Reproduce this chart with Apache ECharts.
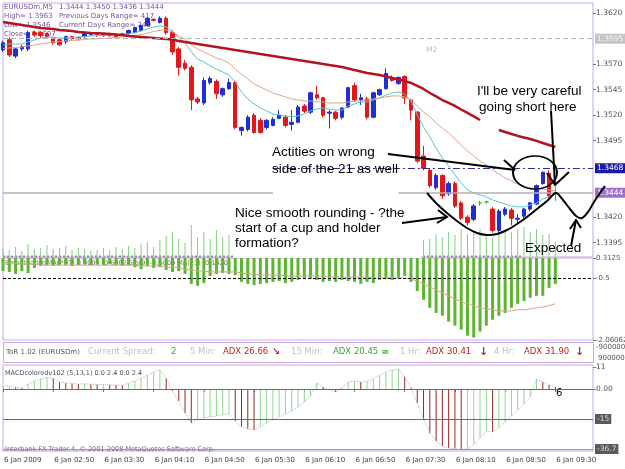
<html>
<head>
<meta charset="utf-8" />
<script src="https://cdn.jsdelivr.net/npm/echarts@6/dist/echarts.min.js"></script>
<style>
  html, body { margin: 0; padding: 0; background: #fff; }
  #chart { width: 625px; height: 469px; }
</style>
</head>
<body>
<div id="chart"></div>
<script type="text/javascript">
// ---- data (EURUSDm M5, 6 Jan 2009) ----
var opens = [1.3584,1.3594,1.3578,1.3585,1.3585,1.3601,1.3601,1.3600,1.3596,1.3594,
  1.3592,1.3597,1.3596,1.3597,1.3599,1.3600,1.3598,1.3600,1.3599,1.3600,
  1.3600,1.3601,1.3603,1.3608,1.3614,1.3611,1.3615,1.3601,1.3585,1.3571,
  1.3567,1.3536,1.3532,1.3552,1.3553,1.3540,1.3546,1.3552,1.3505,1.3506,
  1.3520,1.3515,1.3508,1.3510,1.3517,1.3518,1.3511,1.3513,1.3529,1.3523,
  1.3540,1.3537,1.3522,1.3523,1.3518,1.3528,1.3549,1.3535,1.3536,1.3518,
  1.3540,1.3546,1.3557,1.3551,1.3558,1.3535,1.3523,1.3480,1.3466,1.3449,
  1.3461,1.3443,1.3453,1.3434,1.3420,1.3418,1.3434,1.3435,1.3428,1.3407,
  1.3423,1.3427,1.3418,1.3421,1.3428,1.3433,1.3453,1.3463,1.3444];
var closes = [1.3591,1.3579,1.3585,1.3587,1.3601,1.3599,1.3598,1.3597,1.3591,1.3589,
  1.3597,1.3595,1.3595,1.3600,1.3600,1.3599,1.3599,1.3598,1.3597,1.3600,
  1.3603,1.3606,1.3608,1.3615,1.3613,1.3615,1.3601,1.3582,1.3567,1.3566,
  1.3535,1.3533,1.3554,1.3556,1.3541,1.3546,1.3552,1.3508,1.3508,1.3518,
  1.3503,1.3503,1.3515,1.3516,1.3520,1.3510,1.3513,1.3528,1.3524,1.3542,
  1.3537,1.3520,1.3523,1.3517,1.3527,1.3547,1.3535,1.3537,1.3518,1.3542,
  1.3545,1.3561,1.3554,1.3557,1.3537,1.3525,1.3475,1.3468,1.3451,1.3461,
  1.3441,1.3453,1.3431,1.3419,1.3415,1.3431,1.3434,1.3435,1.3407,1.3426,
  1.3428,1.3419,1.3419,1.3428,1.3434,1.3451,1.3464,1.3441,1.3444];
var lows = [1.3582,1.3577,1.3576,1.3583,1.3583,1.3597,1.3596,1.3595,1.3589,1.3588,
  1.3590,1.3594,1.3593,1.3596,1.3598,1.3597,1.3597,1.3597,1.3596,1.3599,
  1.3599,1.3600,1.3602,1.3607,1.3612,1.3610,1.3599,1.3579,1.3559,1.3564,
  1.3525,1.3531,1.3530,1.3550,1.3536,1.3538,1.3545,1.3506,1.3500,1.3504,
  1.3502,1.3502,1.3506,1.3509,1.3516,1.3508,1.3505,1.3512,1.3522,1.3521,
  1.3535,1.3518,1.3507,1.3515,1.3516,1.3527,1.3533,1.3530,1.3516,1.3517,
  1.3539,1.3545,1.3553,1.3550,1.3531,1.3515,1.3473,1.3466,1.3449,1.3447,
  1.3438,1.3441,1.3429,1.3417,1.3412,1.3416,1.3431,1.3433,1.3405,1.3405,
  1.3421,1.3412,1.3414,1.3419,1.3426,1.3432,1.3452,1.3439,1.3436];
var highs = [1.3593,1.3596,1.3586,1.3589,1.3603,1.3603,1.3602,1.3601,1.3597,1.3595,
  1.3598,1.3598,1.3597,1.3601,1.3601,1.3601,1.3600,1.3601,1.3600,1.3601,
  1.3604,1.3607,1.3609,1.3616,1.3615,1.3617,1.3617,1.3603,1.3587,1.3574,
  1.3569,1.3538,1.3557,1.3558,1.3555,1.3547,1.3556,1.3554,1.3509,1.3520,
  1.3522,1.3517,1.3516,1.3518,1.3525,1.3520,1.3525,1.3530,1.3531,1.3543,
  1.3549,1.3538,1.3525,1.3524,1.3528,1.3548,1.3552,1.3541,1.3538,1.3543,
  1.3546,1.3566,1.3559,1.3558,1.3559,1.3536,1.3524,1.3490,1.3468,1.3463,
  1.3462,1.3455,1.3455,1.3436,1.3422,1.3433,1.3436,1.3436,1.3430,1.3428,
  1.3430,1.3429,1.3423,1.3429,1.3435,1.3452,1.3465,1.3466,1.3450];

// slow (thick red), mid (tan) and fast (cyan) moving averages
var maSlow = [1.36114,1.36104,1.36094,1.36084,1.36075,1.36065,1.36055,1.36050,1.36045,1.36035,
  1.36031,1.36026,1.36016,1.36011,1.36006,1.36004,1.36001,1.35996,1.35991,1.35986,
  1.35977,1.35972,1.35967,1.35962,1.35957,1.35952,1.35947,1.35942,1.35928,1.35918,
  1.35908,1.35898,1.35888,1.35879,1.35869,1.35859,1.35849,1.35839,1.35830,1.35820,
  1.35810,1.35800,1.35790,1.35781,1.35771,1.35761,1.35751,1.35741,1.35732,1.35722,
  1.35712,1.35702,1.35692,1.35683,1.35673,1.35658,1.35643,1.35629,1.35614,1.35604,
  1.35594,1.35580,1.35565,1.35550,1.35536,1.35516,1.35487,1.35457,1.35418,1.35384,
  1.35349,1.35320,1.35291,1.35256,1.35222,1.35188,1.35153,null,null,1.35055,
  1.35036,1.35016,1.34997,1.34982,1.34967,1.34948,1.34928,1.34908,1.34889];
var maMid = [1.35854,1.35859,1.35864,1.35869,1.35879,1.35888,1.35898,1.35908,1.35918,1.35923,
  1.35928,1.35933,1.35937,1.35942,1.35947,1.35949,1.35952,1.35957,1.35962,1.35967,
  1.35972,1.35982,1.35991,1.36006,1.36021,1.36031,1.36035,1.36016,1.35977,1.35947,
  1.35888,1.35849,1.35820,1.35790,1.35761,1.35741,1.35712,1.35653,1.35604,1.35555,
  1.35506,1.35477,1.35447,1.35418,1.35398,1.35379,1.35359,1.35349,1.35340,1.35340,
  1.35330,1.35330,1.35320,1.35320,1.35320,1.35330,1.35340,1.35340,1.35349,1.35359,
  1.35369,1.35379,1.35389,1.35389,1.35379,1.35349,1.35291,1.35232,1.35183,1.35124,
  1.35075,1.35026,1.34967,1.34908,1.34850,1.34801,1.34752,1.34712,1.34663,1.34624,
  1.34585,1.34556,1.34526,1.34507,1.34487,1.34477,1.34477,1.34467,1.34458];
var maFast = [1.35888,1.35898,1.35898,1.35898,1.35918,1.35937,1.35957,1.35967,1.35962,1.35957,
  1.35957,1.35962,1.35967,1.35972,1.35977,1.35979,1.35982,1.35986,1.35986,1.35991,
  1.35996,1.36011,1.36026,1.36045,1.36065,1.36075,1.36065,1.36026,1.35957,1.35908,
  1.35820,1.35751,1.35722,1.35683,1.35653,1.35624,1.35594,1.35526,1.35428,1.35359,
  1.35310,1.35271,1.35242,1.35212,1.35202,1.35193,1.35183,1.35193,1.35212,1.35242,
  1.35261,1.35271,1.35261,1.35251,1.35251,1.35291,1.35310,1.35330,1.35330,1.35349,
  1.35369,1.35398,1.35418,1.35428,1.35408,1.35340,1.35202,1.35085,1.34987,1.34879,
  1.34781,1.34703,1.34614,1.34536,1.34467,1.34438,1.34418,1.34399,1.34369,1.34350,
  1.34330,1.34310,1.34301,1.34301,1.34320,1.34340,1.34379,1.34399,1.34428];

// tick volume (bars hidden behind the note box are left empty)
var volumes = [32,28,40,24,52,32,36,48,32,36,
  44,28,36,32,24,28,36,28,40,32,
  44,36,52,60,40,68,84,100,72,56,
  128,80,100,72,108,80,88,null,null,null,
  null,null,null,null,null,null,null,null,null,null,
  null,null,null,null,null,null,null,null,null,null,
  null,null,null,null,null,null,null,68,72,92,
  80,100,88,112,92,104,112,88,80,100,
  108,100,112,120,100,112,88,92,60];

// second window: green histogram and its salmon signal line
var oscBars = [-0.33,-0.35,-0.40,-0.33,-0.38,-0.25,-0.20,-0.18,-0.20,-0.18,
  -0.15,-0.20,-0.18,-0.15,-0.18,-0.15,-0.18,-0.15,-0.18,-0.20,
  -0.18,-0.23,-0.28,-0.20,-0.25,-0.23,-0.30,-0.35,-0.33,-0.40,
  -0.65,-0.70,-0.63,-0.45,-0.40,-0.38,-0.40,-0.43,-0.60,-0.65,
  -0.68,-0.65,-0.63,-0.60,-0.58,-0.63,-0.60,-0.55,-0.50,-0.53,
  -0.55,-0.60,-0.58,-0.60,-0.55,-0.58,-0.60,-0.65,-0.60,-0.63,
  -0.55,-0.53,-0.55,-0.50,-0.45,-0.60,-0.83,-1.05,-1.25,-1.38,
  -1.45,-1.60,-1.70,-1.80,-1.95,-2.00,-1.85,-1.70,-1.55,-1.45,
  -1.38,-1.25,-1.15,-1.08,-1.00,-0.95,-0.95,-0.75,-0.65];
var oscSignal = [-0.13,-0.13,-0.13,-0.15,-0.15,-0.15,-0.18,-0.18,-0.18,-0.18,
  -0.18,-0.18,-0.18,-0.18,-0.18,-0.18,-0.18,-0.18,-0.18,-0.18,
  -0.18,-0.18,-0.20,-0.20,-0.20,-0.20,-0.23,-0.23,-0.25,-0.28,
  -0.30,-0.33,-0.33,-0.35,-0.35,-0.35,-0.35,-0.35,-0.38,-0.40,
  -0.40,-0.43,-0.43,-0.43,-0.43,-0.45,-0.45,-0.45,-0.45,-0.45,
  -0.45,-0.45,-0.48,-0.48,-0.48,-0.48,-0.48,-0.48,-0.48,-0.50,
  -0.50,-0.50,-0.50,-0.50,-0.50,-0.53,-0.58,-0.65,-0.73,-0.80,
  -0.88,-0.95,-1.03,-1.10,-1.15,-1.20,-1.25,-1.28,-1.30,-1.33,
  -1.33,-1.33,-1.30,-1.30,-1.28,-1.25,-1.23,-1.20,-1.15];

// MACDcoloredv102 histogram
var macd = [1.2,1.5,0.8,0.5,2.5,4.0,5.0,5.8,5.2,3.5,
  3.0,2.8,2.5,2.6,2.4,2.2,2.3,2.1,2.0,1.8,
  2.8,4.0,5.5,7.0,8.5,9.5,5.5,-1.0,-6.0,-12.0,
  -17.0,-15.5,-14.5,-14.0,-13.5,-13.0,-12.5,-16.0,-19.0,-20.0,
  -20.5,-19.0,-17.0,-15.5,-14.0,-12.5,-11.0,-9.0,-6.5,-3.5,
  3.0,1.0,-0.5,-1.5,0.5,3.5,4.0,3.5,3.8,5.0,
  7.0,8.5,9.5,10.0,6.0,0.5,-7.0,-15.0,-22.0,-26.0,
  -28.5,-29.5,-29.8,-30.3,-30.0,-27.5,-24.5,-21.0,-21.5,-19.5,
  -16.5,-13.5,-10.5,-7.5,-4.0,5.0,3.5,2.0,1.0];

// axis labels
var timeLabels = ['6 Jan 2009','6 Jan 02:50','6 Jan 03:30','6 Jan 04:10','6 Jan 04:50','6 Jan 05:30',
  '6 Jan 06:10','6 Jan 06:50','6 Jan 07:30','6 Jan 08:10','6 Jan 08:50','6 Jan 09:30'];
var priceTicks = [1.3395, 1.3420, 1.3495, 1.3520, 1.3545, 1.3570, 1.3620];
var oscTicks = [0, -0.5, -2.06062];
var oscTickText = ['0.3125', '-0.5', '-2.06062'];
var macdTicks = [11, 0];
var macdTickText = ['11', '0.00'];

// 5 minute bars from 02:10, with some empty space on the right
var categories = [];
for (var i = 0; i < 95; i++) {
    var m = 130 + 5 * i;
    categories.push('6 Jan ' + ('0' + Math.floor(m / 60)).slice(-2) + ':' + ('0' + (m % 60)).slice(-2));
}

var BORDER = '#c9a6dd';
var AXIS_FONT = 'DejaVu Sans';
var NOTE_FONT = '13.5px "Liberation Sans"';

var candleData = opens.map(function(o, i) {
    var item = { value: [o, closes[i], lows[i], highs[i]] };
    if (o === closes[i]) {
        item.itemStyle = { color: '#2fc42f', color0: '#2fc42f', borderColor: '#2fc42f', borderColor0: '#2fc42f' };
    }
    return item;
});

function boxLabel(text, bg, fg) {
    return {
        show: true, position: 'end', distance: 2, formatter: text,
        backgroundColor: bg, color: fg, padding: [1, 2, 1, 2],
        fontSize: 7.5, fontFamily: AXIS_FONT
    };
}

function hiddenX(gi) {
    return { type: 'category', gridIndex: gi, data: categories, boundaryGap: false, show: false };
}

function txt(x, y, text, fill, font) {
    return { type: 'text', x: x, y: y, z: 1, style: { text: text, fill: fill, font: font, verticalAlign: 'middle' } };
}
function note(x, y, text) {
    return { type: 'text', z: 100, x: x, y: y, style: { text: text, fill: '#000', font: NOTE_FONT, verticalAlign: 'middle' } };
}
function pen(x1, y1, x2, y2) {
    return { type: 'line', z: 100, shape: { x1: x1, y1: y1, x2: x2, y2: y2 }, style: { stroke: '#000', lineWidth: 2 } };
}
function penPath(points, smooth) {
    return { type: 'polyline', z: 100, shape: { points: points, smooth: smooth || 0 }, style: { stroke: '#000', lineWidth: 2, fill: null } };
}

var infoFont = '7px "DejaVu Sans"';
var torFont = '8.5px "DejaVu Sans"';
var purple = '#7a4e9e';
var grayTxt = '#c0c0c0';
var redTxt = '#c41e1e';
var greenTxt = '#33a833';

var graphics = [
    // chart header
    txt(4, 7, 'EURUSDm,M5', purple, infoFont), txt(59, 7, '1.3444 1.3450 1.3436 1.3444', purple, infoFont),
    txt(4, 16, 'High= 1.3963', purple, infoFont), txt(59, 16, 'Previous Days Range= 417', purple, infoFont),
    txt(4, 25, 'Low= 1.3546', purple, infoFont), txt(59, 25, 'Current Days Range= 240', purple, infoFont),
    txt(4, 34, 'Close= 1.3607', purple, infoFont),
    txt(426, 50, 'M2', '#b8b8b8', '7.5px "DejaVu Sans"'),
    txt(5, 263, 'SmoothedOsMA(PDT) 0.0000 -0.6062 Sig(9) -0.5000 MA(21) -0.1420', '#777', '6.5px "DejaVu Sans"'),
    // ToR info window
    { type: 'rect', z: 1, shape: { x: 3.5, y: 342.5, width: 590, height: 20 }, style: { fill: '#fff', stroke: BORDER, lineWidth: 1 } },
    txt(6, 352, 'ToR 1.02 (EURUSDm)', '#555', '7px "DejaVu Sans"'),
    txt(88, 352, 'Current Spread:', grayTxt, torFont), txt(171, 352, '2', greenTxt, torFont),
    txt(190, 352, '5 Min:', grayTxt, torFont), txt(223, 352, 'ADX 26.66', redTxt, torFont),
    txt(272, 352, '\u2198', '#d42020', 'bold 10px "DejaVu Sans"'),
    txt(291, 352, '15 Min:', grayTxt, torFont), txt(333, 352, 'ADX 20.45', greenTxt, torFont),
    txt(381, 352, '\u2248', greenTxt, 'bold 10px "DejaVu Sans"'),
    txt(400, 352, '1 Hr:', grayTxt, torFont), txt(426, 352, 'ADX 30.41', redTxt, torFont),
    txt(479, 352, '\u2193', '#d42020', 'bold 11px "DejaVu Sans"'),
    txt(494, 352, '4 Hr:', grayTxt, torFont), txt(524, 352, 'ADX 31.90', redTxt, torFont),
    txt(575, 352, '\u2193', '#d42020', 'bold 11px "DejaVu Sans"'),
    txt(596, 347, '-9000000', '#555', '7px "DejaVu Sans"'),
    txt(598, 358, '9000000', '#555', '7px "DejaVu Sans"'),
    // MACD window texts
    txt(5, 373, 'MACDcoloredv102 (5,13,1) 0.0 2.4 0.0 2.4', '#4a4a60', '6.5px "DejaVu Sans"'),
    txt(5, 449, 'Interbank FX Trader 4, \u00a9 2001-2008 MetaQuotes Software Corp.', '#7a5a8a', '6.5px "DejaVu Sans"'),
    txt(556, 393, '6', '#000', '10px "DejaVu Sans"'),
    // dotted strip between main chart and second window
    { type: 'line', z: 1, shape: { x1: 3, y1: 256.5, x2: 522, y2: 256.5 }, style: { stroke: '#a77cc4', lineWidth: 2, lineDash: [2, 2] } },
    // white box behind the note text
    { type: 'rect', z: 90, shape: { x: 233, y: 199, width: 188, height: 59 }, style: { fill: '#fff' } },
    // handwritten notes
    note(477, 91, "I'll be very careful"),
    note(479, 107, 'going short here'),
    note(272, 152, 'Actities on wrong'),
    note(272, 169, 'side of the 21 as well'),
    note(235, 213, 'Nice smooth rounding - ?the'),
    note(235, 228, 'start of a cup and holder'),
    note(235, 243, 'formation?'),
    note(525, 248, 'Expected'),
    pen(388, 154, 515, 170), pen(504, 160, 515, 170),
    { type: 'circle', z: 100, x: 535, y: 172.5, scaleY: 0.75, shape: { cx: 0, cy: 0, r: 22 },
      style: { fill: null, stroke: '#000', lineWidth: 2, strokeNoScale: true } },
    pen(551, 111, 555, 185), penPath([[547, 173], [555, 185], [569, 172]]),
    penPath([[427, 193], [437, 204], [447, 213], [457, 221], [467, 228], [477, 233], [487, 235], [497, 234],
             [507, 230], [517, 224], [527, 217], [537, 209], [547, 201], [556, 193], [563, 200], [570, 209],
             [576, 216], [582, 218], [588, 212], [594, 202], [600, 193], [605, 186]], 0.3),
    pen(402, 223, 447, 217), penPath([[438, 210], [447, 217], [437, 223]]),
    pen(571, 246, 576, 220), penPath([[570, 229], [576, 220], [581, 228]])
];

var chart = echarts.init(document.getElementById('chart'), null, { renderer: 'canvas' });

var option = {
    animation: false,
    backgroundColor: '#fff',
    grid: [
        { left: 3, right: 32, top: 3, height: 254, show: true, borderColor: BORDER, borderWidth: 1, outerBoundsMode: 'none' },
        { left: 3, right: 32, top: 258, height: 82, show: true, borderColor: BORDER, borderWidth: 1, outerBoundsMode: 'none' },
        { left: 3, right: 32, top: 365, height: 86, show: true, borderColor: BORDER, borderWidth: 1, outerBoundsMode: 'none' }
    ],
    xAxis: [
        hiddenX(0),
        hiddenX(1),
        {
            type: 'category', gridIndex: 2, data: categories, boundaryGap: false,
            axisLine: { show: false },
            axisTick: { show: true, interval: 7, length: 3, lineStyle: { color: '#777' } },
            axisLabel: {
                interval: 7, align: 'left', margin: 6, padding: [0, 0, 0, 1],
                fontSize: 7, fontFamily: AXIS_FONT, color: '#444',
                formatter: function(v, idx) { return timeLabels[idx / 8] || ''; }
            }
        }
    ],
    yAxis: [
        {
            type: 'value', gridIndex: 0, position: 'right', min: 1.3381, max: 1.3630,
            splitLine: { show: false }, axisLine: { show: false },
            axisTick: { show: true, length: 3, customValues: priceTicks, lineStyle: { color: '#777' } },
            axisLabel: { customValues: priceTicks, margin: 3, fontSize: 7.5, fontFamily: AXIS_FONT, color: '#555',
                formatter: function(v) { return v.toFixed(4); } }
        },
        { type: 'value', gridIndex: 0, min: 0, max: 1016, show: false },
        {
            type: 'value', gridIndex: 1, position: 'right', min: -2.06062, max: 0,
            splitLine: { show: false }, axisLine: { show: false },
            axisTick: { show: true, length: 3, customValues: oscTicks, lineStyle: { color: '#777' } },
            axisLabel: { customValues: oscTicks, margin: 3, fontSize: 7, fontFamily: AXIS_FONT, color: '#555',
                formatter: function(v) { return oscTickText[oscTicks.indexOf(v)]; } }
        },
        {
            type: 'value', gridIndex: 2, position: 'right', min: -31, max: 12,
            splitLine: { show: false }, axisLine: { show: false },
            axisTick: { show: true, length: 3, customValues: macdTicks, lineStyle: { color: '#777' } },
            axisLabel: { customValues: macdTicks, margin: 3, fontSize: 7.5, fontFamily: AXIS_FONT, color: '#555',
                formatter: function(v) { return macdTickText[macdTicks.indexOf(v)]; } }
        }
    ],
    series: [
        {
            name: 'Volume', type: 'bar', xAxisIndex: 0, yAxisIndex: 1, data: volumes,
            barWidth: 1, itemStyle: { color: '#86cc86' }, silent: true
        },
        {
            name: 'EURUSDm', type: 'candlestick', xAxisIndex: 0, yAxisIndex: 0, data: candleData,
            barWidth: 4, clip: true,
            itemStyle: { color: '#1f2fd6', color0: '#e3161b', borderColor: '#1f2fd6', borderColor0: '#e3161b', borderWidth: 1 },
            markLine: {
                silent: true, symbol: 'none', animation: false,
                data: [
                    [{ coord: [categories[0], 1.3595], lineStyle: { color: '#b4b4b4', type: [5, 3], width: 1 },
                       label: boxLabel('1.3595', '#c4c4c4', '#f4f4f4') }, { coord: [categories[94], 1.3595] }],
                    [{ coord: [categories[43], 1.3468], lineStyle: { color: '#2a2a9a', type: [7, 3, 2, 3], width: 1 },
                       label: boxLabel('1.3468', '#1a1aa8', '#ffffff') }, { coord: [categories[94], 1.3468] }],
                    [{ coord: [categories[0], 1.3444], lineStyle: { color: '#b0b0b0', type: 'solid', width: 1.5 },
                       label: { show: false } }, { coord: [categories[43], 1.3444] }],
                    [{ coord: [categories[63], 1.3444], lineStyle: { color: '#b0b0b0', type: 'solid', width: 1.5 },
                       label: boxLabel('1.3444', '#a070c8', '#ffffff') }, { coord: [categories[94], 1.3444] }]
                ]
            }
        },
        {
            name: 'MA fast', type: 'line', xAxisIndex: 0, yAxisIndex: 0, data: maFast,
            showSymbol: false, lineStyle: { color: '#5cc6c6', width: 1 }, silent: true
        },
        {
            name: 'MA mid', type: 'line', xAxisIndex: 0, yAxisIndex: 0, data: maMid,
            showSymbol: false, lineStyle: { color: '#e0a58a', width: 1 }, silent: true
        },
        {
            name: 'MA slow', type: 'line', xAxisIndex: 0, yAxisIndex: 0, data: maSlow,
            showSymbol: false, connectNulls: false, lineStyle: { color: '#b4141e', width: 2.5 }, silent: true
        },
        {
            name: 'Osc', type: 'bar', xAxisIndex: 1, yAxisIndex: 2, data: oscBars,
            barWidth: 3, itemStyle: { color: '#5db52f' }, silent: true,
            markLine: {
                silent: true, symbol: 'none', label: { show: false },
                data: [{ yAxis: -0.5, lineStyle: { color: '#000', type: [3, 2], width: 1 } }]
            }
        },
        {
            name: 'Osc signal', type: 'line', xAxisIndex: 1, yAxisIndex: 2, data: oscSignal,
            showSymbol: false, lineStyle: { color: '#d9a08e', width: 1 }, silent: true
        },
        {
            name: 'MACD', type: 'bar', xAxisIndex: 2, yAxisIndex: 3, data: macd,
            barWidth: 1, silent: true,
            itemStyle: {
                color: function(p) {
                    var i = p.dataIndex;
                    return (i > 0 && macd[i] < macd[i - 1]) ? '#8e2a2a' : '#8fd68f';
                }
            },
            markLine: {
                silent: true, symbol: 'none',
                data: [
                    { yAxis: 0, lineStyle: { color: '#6a6a6a', type: 'solid', width: 1 }, label: { show: false } },
                    { yAxis: -15, lineStyle: { color: '#6a6a6a', type: 'solid', width: 1 }, label: boxLabel('-15', '#5a5a5a', '#dddddd') },
                    { yAxis: -30, lineStyle: { color: '#9a9a9a', type: 'solid', width: 1 }, label: boxLabel('-36.7', '#5a5a5a', '#dddddd') }
                ]
            }
        },
        {
            name: 'MACD line', type: 'line', xAxisIndex: 2, yAxisIndex: 3, data: macd,
            showSymbol: false, lineStyle: { color: '#b8b8b8', width: 1, type: 'dotted' }, silent: true
        }
    ],
    graphic: graphics
};

chart.setOption(option);
</script>
</body>
</html>
